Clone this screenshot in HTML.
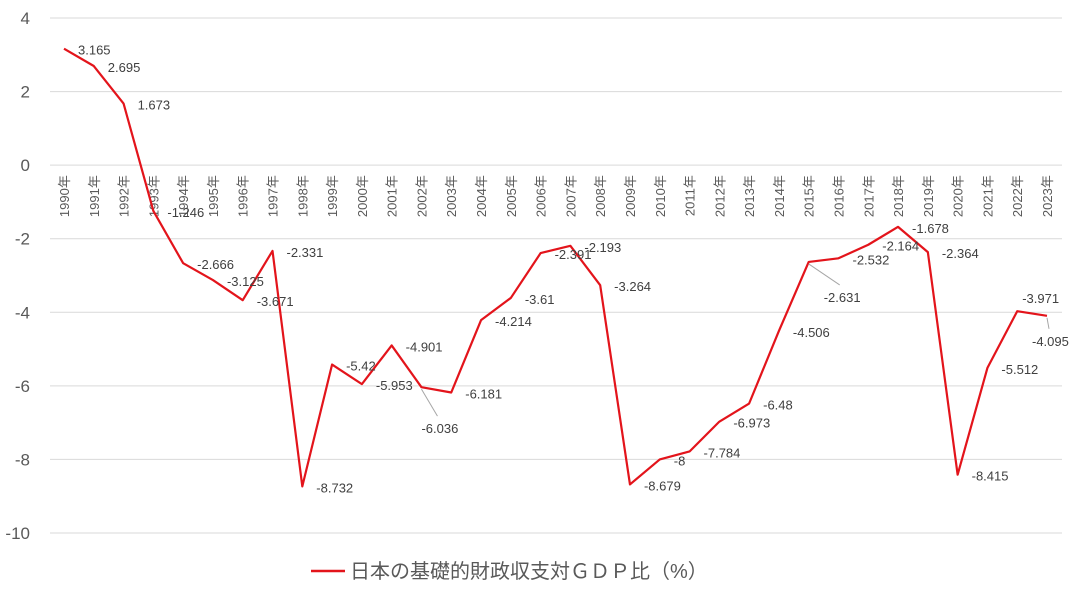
<!DOCTYPE html>
<html><head><meta charset="utf-8"><style>
body{margin:0;background:#fff;}
svg text{font-family:"Liberation Sans","Noto Sans CJK JP",sans-serif;}
</style></head><body>
<svg id="chart" width="1077" height="588">
<g id="grid"></g><g id="xlabels"></g><g id="ylabels"></g><g id="series"></g><g id="labels"></g>
<g>
<line x1="311" y1="571" x2="345" y2="571" stroke="#e3141b" stroke-width="2.5"/>
<text x="350" y="578" font-size="20" fill="#595959">日本の基礎的財政収支対ＧＤＰ比（%）</text>
</g>
</svg>
<script>
const years = [1990,1991,1992,1993,1994,1995,1996,1997,1998,1999,2000,2001,2002,2003,2004,2005,2006,2007,2008,2009,2010,2011,2012,2013,2014,2015,2016,2017,2018,2019,2020,2021,2022,2023];
const values = [3.165,2.695,1.673,-1.246,-2.666,-3.125,-3.671,-2.331,-8.732,-5.42,-5.953,-4.901,-6.036,-6.181,-4.214,-3.61,-2.391,-2.193,-3.264,-8.679,-8,-7.784,-6.973,-6.48,-4.506,-2.631,-2.532,-2.164,-1.678,-2.364,-8.415,-5.512,-3.971,-4.095];
const yTicks = [4,2,0,-2,-4,-6,-8,-10];
const NS="http://www.w3.org/2000/svg";
const x0=64,x1=1047,yTop=18,yBot=533,vMax=4,vMin=-10;
const X=i=>x0+(x1-x0)*i/(years.length-1);
const Y=v=>yTop+(vMax-v)/(vMax-vMin)*(yBot-yTop);
function mk(t,a,p){const e=document.createElementNS(NS,t);for(const k in a)e.setAttribute(k,a[k]);p.appendChild(e);return e;}
const grid=document.getElementById('grid'),yl=document.getElementById('ylabels'),xl=document.getElementById('xlabels'),ser=document.getElementById('series'),lab=document.getElementById('labels');
yTicks.forEach(v=>{
 const l=mk('line',{x1:50,x2:1062,y1:Y(v),y2:Y(v),stroke:'#d9d9d9','stroke-width':1},grid);
 
 
 const t=mk('text',{x:30,y:Y(v)+6,'text-anchor':'end','font-size':17,fill:'#595959'},yl);
 t.textContent=v;
 
 
});
years.forEach((yr,i)=>{
 const x=X(i),y=Y(0)+10;
 const t=mk('text',{x:x+5,y:y,'text-anchor':'end','font-size':13,fill:'#595959',transform:`rotate(-90 ${x+5} ${y})`},xl);
 t.setAttribute('transform',`rotate(-90 ${x} ${y})`);
 t.setAttribute('x',x);t.setAttribute('y',y+5);
 t.setAttribute('transform',`rotate(-90 ${x} ${y})`);
 t.textContent=yr+'年';
 
 
});
const pts=values.map((v,i)=>X(i)+','+Y(v)).join(' ');
const pl=mk('polyline',{points:pts,fill:'none',stroke:'#e3141b','stroke-width':2.2,'stroke-linejoin':'round'},ser);


const offs={12:[0,41,true],25:[15,35,true],32:[5,-13,false],33:[-15,25,true]};
values.forEach((v,i)=>{
 const px=X(i),py=Y(v);
 let dx=14,dy=1,lead=false;
 if(offs[i]){[dx,dy,lead]=offs[i];}
 if(lead){
  const ln=mk('line',{x1:px,y1:py+2,x2:px+dx+(dx<0?12:16),y2:py+dy-12,stroke:'#a6a6a6','stroke-width':1},lab);
  if(i===33){ln.setAttribute('x2',px+2);ln.setAttribute('y2',py+dy-12);}
  
  
 }
 const t=mk('text',{x:px+dx,y:py+dy+5,'font-size':13,fill:'#404040'},lab);
 t.textContent=v;
 
 
});
</script>
</body></html>
